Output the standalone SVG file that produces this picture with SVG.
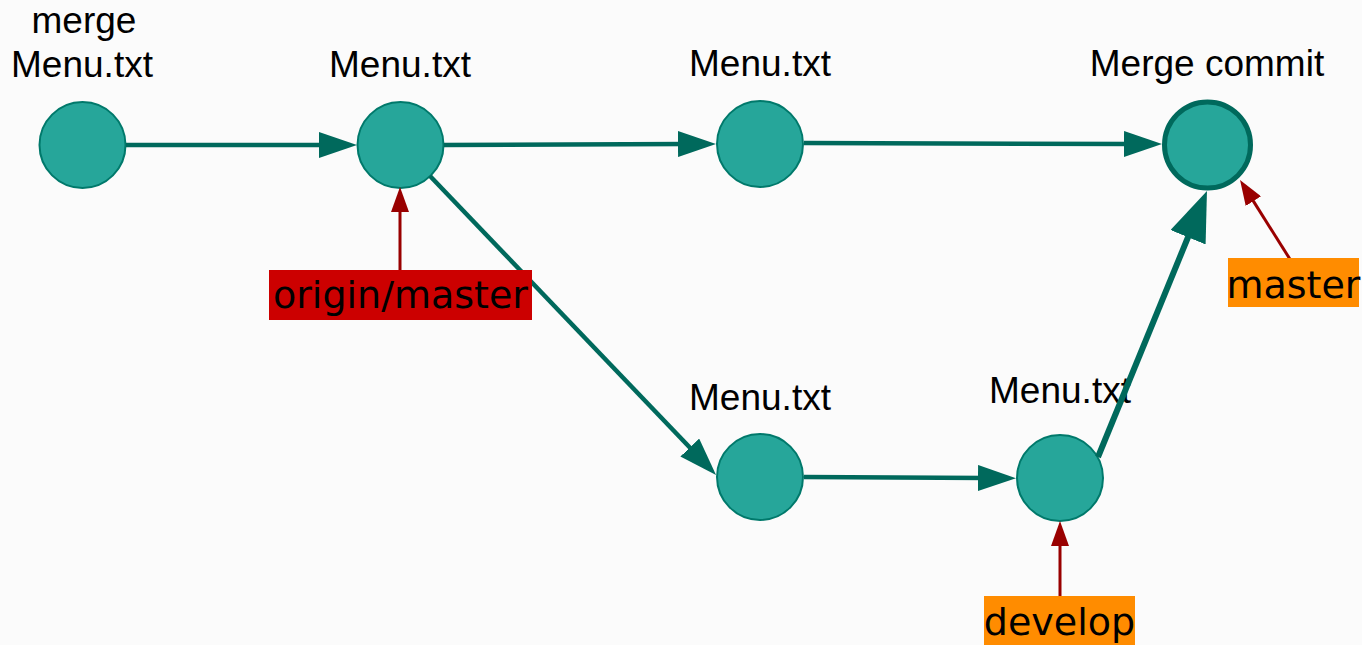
<svg xmlns="http://www.w3.org/2000/svg" width="1362" height="645" viewBox="0 0 1362 645">
<defs>
<style>
.node{fill:#26a69a;stroke:#00796b;stroke-width:2}
.merge{fill:#26a69a;stroke:#00695c;stroke-width:5}
.lbl{font-family:"Liberation Sans",Arial,sans-serif;font-size:37px;fill:#000;text-anchor:middle}
.tag{font-family:"DejaVu Sans",Verdana,sans-serif;font-size:38px;fill:#000;text-anchor:middle}
.edge{stroke:#00695c;stroke-width:4.5;fill:none}
.edgeb{stroke:#00695c;stroke-width:6;fill:none}
.ref{stroke:#990000;stroke-width:3;fill:none}
</style>
<marker id="th" markerUnits="userSpaceOnUse" markerWidth="38" markerHeight="26" refX="8" refY="13" orient="auto" viewBox="0 0 38 26"><path d="M0,0 L38,13 L0,26 z" fill="#00695c"/></marker>
<marker id="thb" markerUnits="userSpaceOnUse" markerWidth="50" markerHeight="38" refX="10" refY="19" orient="auto" viewBox="0 0 50 38"><path d="M0,0 L50,19 L0,38 z" fill="#00695c"/></marker>
<marker id="rh" markerUnits="userSpaceOnUse" markerWidth="25" markerHeight="18" refX="5" refY="9" orient="auto" viewBox="0 0 25 18"><path d="M0,0 L25,9 L0,18 z" fill="#990000"/></marker>
</defs>
<rect width="1362" height="645" fill="#fbfbfb"/>
<g id="n1"><circle class="node" cx="82.5" cy="145" r="43"/><text class="lbl" x="84" y="33">merge</text><text class="lbl" x="82" y="77">Menu.txt</text></g>
<g id="n2"><circle class="node" cx="400.5" cy="145" r="43"/><text class="lbl" x="400" y="77">Menu.txt</text></g>
<g id="n3"><circle class="node" cx="760" cy="144" r="43"/><text class="lbl" x="760" y="76">Menu.txt</text></g>
<g id="n4"><circle class="merge" cx="1207.5" cy="145" r="43"/><text class="lbl" x="1207" y="76">Merge commit</text></g>
<g id="n5"><circle class="node" cx="760" cy="477" r="43"/><text class="lbl" x="760" y="410">Menu.txt</text></g>
<g id="n6"><circle class="node" cx="1060" cy="478" r="43"/><text class="lbl" x="1060" y="403">Menu.txt</text></g>
<g id="connectors">
<line class="edge" x1="126" y1="145" x2="327" y2="145" marker-end="url(#th)"/>
<line class="edge" x1="444" y1="145" x2="686" y2="144" marker-end="url(#th)"/>
<line class="edge" x1="804" y1="143" x2="1132" y2="144" marker-end="url(#th)"/>
<line class="edge" x1="430" y1="176" x2="695.3" y2="453.3" marker-end="url(#th)"/>
<line class="edge" x1="804" y1="477" x2="986" y2="478" marker-end="url(#th)"/>
<line class="edgeb" x1="1098" y1="457" x2="1191.8" y2="228" marker-end="url(#thb)"/>
<line class="ref" x1="400" y1="270" x2="400" y2="207" marker-end="url(#rh)"/>
<line class="ref" x1="1060" y1="597" x2="1060" y2="541" marker-end="url(#rh)"/>
<line class="ref" x1="1293" y1="264" x2="1250.7" y2="196.9" marker-end="url(#rh)"/>
</g>
<g id="origin-master"><rect x="269" y="270" width="263" height="50" fill="#cc0000"/><text class="tag" x="400.5" y="308">origin/master</text></g>
<g id="master"><rect x="1228" y="258" width="131" height="49" fill="#ff8c00"/><text class="tag" x="1293.5" y="298">master</text></g>
<g id="develop"><rect x="984" y="596" width="151" height="49" fill="#ff8c00"/><text class="tag" x="1059.5" y="635">develop</text></g>
</svg>
